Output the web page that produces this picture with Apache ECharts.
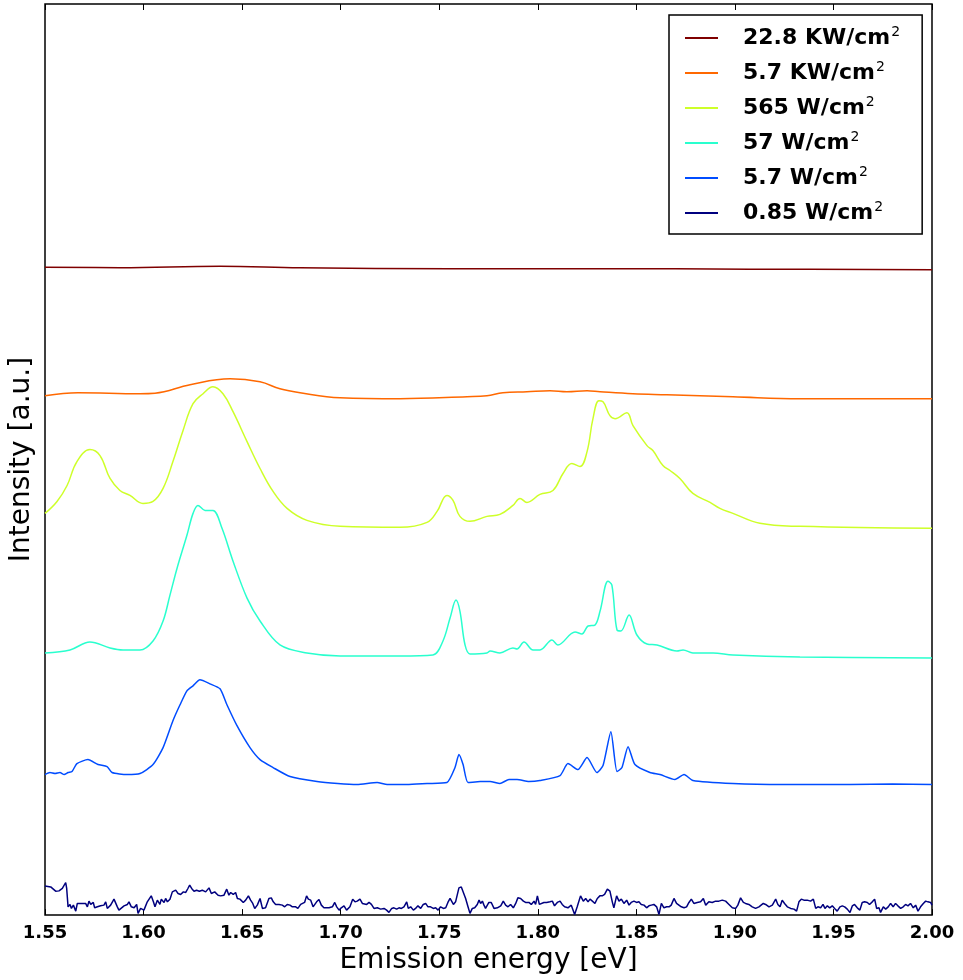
<!DOCTYPE html>
<html>
<head>
<meta charset="utf-8">
<title>Emission spectra</title>
<script src="https://cdn.jsdelivr.net/npm/echarts@6/dist/echarts.min.js"></script>
<style>
  html, body { margin: 0; padding: 0; background: #fff; }
  #chart { width: 963px; height: 980px; }
</style>
</head>
<body>
<div id="chart"></div>
<script>
// legend labels (superscript 2 is added by the formatter)
const seriesNames = ['22.8 KW/cm', '5.7 KW/cm', '565 W/cm', '57 W/cm', '5.7 W/cm', '0.85 W/cm'];
const seriesColors = ['#7f0000', '#ff6800', '#ceff29', '#29ffce', '#004cff', '#00007f'];
// how much each curve is smoothed (the noisy low-power one not at all)
const seriesSmooth = [0.4, 0.4, 0.4, 0.35, 0.2, false];

// x tick labels
const xTicks = [1.55, 1.60, 1.65, 1.70, 1.75, 1.80, 1.85, 1.90, 1.95, 2.00];

// 22.8 KW/cm2
const energyRed = [1.55, 1.588, 1.6388, 1.6794, 1.7555, 1.8316, 1.9077, 2.0];
const intensityRed = [65.0, 64.95, 65.1, 64.95, 64.85, 64.85, 64.8, 64.75];

// 5.7 KW/cm2
const energyOrange = [1.55, 1.5667, 1.5982, 1.6058, 1.6236, 1.6439, 1.6591, 1.6692, 1.6794, 1.6997,
  1.7301, 1.7641, 1.7742, 1.7823, 1.7945, 1.8062, 1.8148, 1.825, 1.8316, 1.8483, 1.8655, 1.899, 1.933, 2.0];
const intensityOrange = [52.1, 52.4, 52.3, 52.35, 53.2, 53.8, 53.5, 52.8, 52.4, 51.9,
  51.8, 52.0, 52.1, 52.4, 52.5, 52.6, 52.5, 52.6, 52.5, 52.3, 52.2, 52.0, 51.8, 51.8];

// 565 W/cm2
const energyYellow = [1.55, 1.5561, 1.5612, 1.5662, 1.5728, 1.5779, 1.583, 1.588, 1.5931, 1.5997,
  1.6048, 1.6099, 1.6149, 1.62, 1.6251, 1.6302, 1.6352, 1.6403, 1.6454, 1.6525,
  1.6591, 1.6657, 1.6728, 1.6829, 1.6997, 1.7301, 1.7438, 1.7489, 1.7539, 1.757,
  1.7605, 1.7656, 1.7742, 1.7808, 1.7874, 1.791, 1.7945, 1.8011, 1.8077, 1.8128,
  1.8173, 1.8214, 1.825, 1.828, 1.831, 1.8331, 1.8366, 1.8392, 1.8452, 1.8483,
  1.8554, 1.8584, 1.8635, 1.8671, 1.8721, 1.8787, 1.8874, 1.8924, 1.899, 1.9127, 1.933, 2.0];
const intensityYellow = [40.3, 41.5, 43.1, 45.5, 46.7, 46.1, 43.8, 42.6, 42.1, 41.3,
  41.5, 42.8, 45.5, 48.6, 51.3, 52.3, 53.0, 52.3, 50.5, 47.5,
  44.8, 42.5, 40.8, 39.6, 39.0, 38.9, 39.4, 40.5, 42.1, 41.6,
  40.0, 39.5, 40.0, 40.2, 41.1, 41.8, 41.4, 42.2, 42.6, 44.3,
  45.3, 45.0, 46.5, 49.8, 51.6, 51.5, 50.1, 49.8, 50.4, 49.1,
  47.1, 46.6, 45.1, 44.6, 43.8, 42.3, 41.4, 40.8, 40.3, 39.3, 39.0, 38.8];

// 57 W/cm2
const energyCyan = [1.55, 1.5627, 1.5728, 1.583, 1.5896, 1.5982, 1.6048, 1.6099, 1.6134, 1.617,
  1.622, 1.6251, 1.6276, 1.6312, 1.6352, 1.6398, 1.6454, 1.6525, 1.6591, 1.6692,
  1.6829, 1.6997, 1.7301, 1.7468, 1.7519, 1.7555, 1.7585, 1.7605, 1.7631, 1.7656,
  1.7742, 1.7758, 1.7808, 1.7874, 1.7895, 1.793, 1.7976, 1.8011, 1.8072, 1.8102,
  1.8189, 1.8224, 1.8255, 1.829, 1.8316, 1.8356, 1.8376, 1.8402, 1.8422, 1.8463,
  1.8503, 1.8554, 1.8605, 1.8706, 1.8737, 1.8787, 1.8889, 1.899, 1.933, 2.0];
const intensityCyan = [26.3, 26.6, 27.4, 26.8, 26.6, 26.6, 27.5, 29.5, 32.1, 34.8,
  38.1, 40.3, 41.1, 40.6, 40.6, 38.8, 35.5, 31.8, 29.5, 27.1,
  26.3, 26.0, 26.0, 26.1, 27.5, 29.8, 31.6, 30.5, 27.1, 26.2,
  26.3, 26.5, 26.3, 26.8, 26.7, 27.4, 26.6, 26.6, 27.6, 27.1,
  28.4, 28.2, 29.0, 29.1, 30.5, 33.5, 33.1, 28.6, 28.5, 30.1,
  28.1, 27.2, 27.1, 26.5, 26.6, 26.3, 26.3, 26.1, 25.9, 25.8];

// 5.7 W/cm2
const energyBlue = [1.55, 1.5525, 1.5551, 1.5576, 1.5597, 1.5617, 1.5637, 1.5662, 1.5718, 1.5769,
  1.5815, 1.584, 1.5916, 1.5982, 1.6048, 1.6099, 1.6149, 1.6185, 1.622, 1.6251,
  1.6286, 1.6337, 1.6388, 1.6423, 1.6474, 1.654, 1.6591, 1.6657, 1.6743, 1.688,
  1.6985, 1.7083, 1.7185, 1.7236, 1.7336, 1.7438, 1.7539, 1.758, 1.76, 1.7621,
  1.7646, 1.7708, 1.7758, 1.7808, 1.7854, 1.7895, 1.7955, 1.8011, 1.8113, 1.8153,
  1.8204, 1.825, 1.83, 1.8331, 1.8371, 1.8402, 1.8427, 1.8458, 1.8493, 1.8569,
  1.862, 1.8696, 1.8742, 1.8787, 1.899, 1.9244, 1.9584, 1.98, 2.0];
const intensityBlue = [14.1, 14.3, 14.2, 14.3, 14.1, 14.3, 14.4, 15.2, 15.6, 15.1,
  14.9, 14.3, 14.1, 14.2, 15.1, 16.8, 19.5, 21.1, 22.5, 23.0,
  23.6, 23.2, 22.7, 21.1, 19.0, 16.8, 15.6, 14.8, 13.9, 13.4,
  13.2, 13.1, 13.3, 13.1, 13.1, 13.2, 13.3, 14.8, 16.1, 15.1,
  13.3, 13.4, 13.4, 13.2, 13.6, 13.6, 13.4, 13.5, 14.0, 15.2,
  14.6, 15.8, 14.3, 15.0, 18.4, 14.4, 14.8, 16.9, 15.1, 14.3,
  14.1, 13.6, 14.1, 13.5, 13.2, 13.1, 13.1, 13.15, 13.1];

// 0.85 W/cm2
const energyNavy = [1.55, 1.5529, 1.5554, 1.5571, 1.5588, 1.5596, 1.5605, 1.561, 1.5617, 1.5627,
  1.5634, 1.5644, 1.5656, 1.5664, 1.5681, 1.5706, 1.5715, 1.5723, 1.5732, 1.5745,
  1.5752, 1.5766, 1.5782, 1.5799, 1.5808, 1.5816, 1.5833, 1.585, 1.5867, 1.5875,
  1.5884, 1.5901, 1.5918, 1.5926, 1.5938, 1.5952, 1.5965, 1.5972, 1.5985, 1.5994,
  1.6002, 1.6019, 1.6039, 1.605, 1.6058, 1.607, 1.6083, 1.609, 1.6104, 1.6112,
  1.6121, 1.6134, 1.6146, 1.6163, 1.6175, 1.6188, 1.6202, 1.6214, 1.6225, 1.6234,
  1.6244, 1.6256, 1.6269, 1.6283, 1.6298, 1.6315, 1.6332, 1.6344, 1.6361, 1.6378,
  1.6391, 1.6408, 1.6422, 1.6433, 1.6442, 1.6455, 1.6467, 1.6476, 1.6489, 1.6506,
  1.6518, 1.6532, 1.6543, 1.6554, 1.6564, 1.6577, 1.6591, 1.6603, 1.6619, 1.6636,
  1.6648, 1.6658, 1.667, 1.6687, 1.6704, 1.6716, 1.6729, 1.6743, 1.6755, 1.6772,
  1.6783, 1.6797, 1.6805, 1.6817, 1.6827, 1.6836, 1.6848, 1.686, 1.6868, 1.6878,
  1.689, 1.6902, 1.6915, 1.6941, 1.6958, 1.697, 1.698, 1.6992, 1.7003, 1.7017,
  1.703, 1.7047, 1.7061, 1.7073, 1.7084, 1.7098, 1.711, 1.7118, 1.7132, 1.7144,
  1.7156, 1.7169, 1.7186, 1.7203, 1.722, 1.7233, 1.7245, 1.7259, 1.727, 1.7284,
  1.7296, 1.7308, 1.7321, 1.7335, 1.7343, 1.7355, 1.7369, 1.738, 1.7392, 1.7406,
  1.7419, 1.7431, 1.7443, 1.7456, 1.747, 1.7482, 1.7494, 1.7507, 1.7521, 1.7533,
  1.7544, 1.7555, 1.7563, 1.7572, 1.7583, 1.76, 1.7612, 1.7622, 1.7634, 1.7646,
  1.7656, 1.7668, 1.768, 1.7693, 1.7702, 1.771, 1.7719, 1.7727, 1.7735, 1.7752,
  1.7764, 1.7778, 1.7795, 1.7812, 1.7825, 1.7837, 1.7849, 1.7862, 1.7876, 1.7888,
  1.7899, 1.7913, 1.7927, 1.7938, 1.7955, 1.7967, 1.7981, 1.7989, 1.7998, 1.8008,
  1.8018, 1.8031, 1.8045, 1.8062, 1.8074, 1.8085, 1.8099, 1.8113, 1.8124, 1.8136,
  1.8153, 1.817, 1.8187, 1.82, 1.8217, 1.8231, 1.8243, 1.8255, 1.8265, 1.8277,
  1.829, 1.8302, 1.8315, 1.8327, 1.8339, 1.8353, 1.8366, 1.8378, 1.8386, 1.84,
  1.8412, 1.8424, 1.8437, 1.8451, 1.8463, 1.8474, 1.8488, 1.8501, 1.8513, 1.8525,
  1.8539, 1.8552, 1.8564, 1.8576, 1.8589, 1.8603, 1.8615, 1.8627, 1.864, 1.8654,
  1.8666, 1.8677, 1.8691, 1.8704, 1.8716, 1.8728, 1.8742, 1.8755, 1.8767, 1.8779,
  1.8792, 1.8809, 1.8826, 1.884, 1.8852, 1.8868, 1.8885, 1.8902, 1.8919, 1.8936,
  1.8953, 1.897, 1.8987, 1.9004, 1.9015, 1.9029, 1.9043, 1.9054, 1.9071, 1.9088,
  1.9105, 1.9122, 1.9144, 1.9156, 1.9173, 1.919, 1.9207, 1.9218, 1.9229, 1.924,
  1.9252, 1.9266, 1.9283, 1.93, 1.9313, 1.9325, 1.9337, 1.935, 1.9367, 1.9384,
  1.9398, 1.941, 1.9421, 1.9435, 1.9447, 1.9457, 1.9469, 1.9481, 1.9494, 1.9506,
  1.9519, 1.9533, 1.9545, 1.9557, 1.957, 1.9584, 1.9596, 1.9607, 1.9621, 1.9634,
  1.9646, 1.9658, 1.9672, 1.9683, 1.9697, 1.9709, 1.9719, 1.9731, 1.9739, 1.9753,
  1.9765, 1.9778, 1.979, 1.9803, 1.9815, 1.9827, 1.9841, 1.9854, 1.9866, 1.9878,
  1.9891, 1.9905, 1.9917, 1.9929, 1.9942, 1.9956, 1.9968, 1.9979, 1.9993, 2.0];
const intensityNavy = [2.93, 2.83, 2.4, 2.43, 2.67, 2.73, 3.27, 2.67, 0.83, 1.07,
  0.67, 1.0, 0.4, 1.17, 1.17, 1.17, 0.83, 1.4, 1.07, 1.27,
  0.73, 0.83, 0.93, 1.0, 1.33, 0.67, 1.0, 1.6, 0.83, 0.5,
  0.67, 0.93, 1.07, 1.33, 0.83, 0.73, 1.07, 0.17, 0.67, 0.83,
  0.5, 1.33, 1.93, 1.33, 0.83, 1.5, 1.07, 1.6, 1.27, 1.67,
  1.33, 1.6, 2.33, 2.5, 2.17, 2.07, 2.33, 2.27, 2.67, 3.0,
  2.67, 2.4, 2.5, 2.4, 2.5, 2.33, 2.73, 2.17, 2.33, 2.0,
  1.93, 2.0, 2.6, 2.0, 2.27, 2.07, 2.27, 1.67, 1.6, 1.27,
  1.5, 1.93, 1.5, 1.17, 0.67, 1.0, 1.67, 0.67, 0.73, 1.67,
  1.73, 1.33, 1.07, 1.07, 1.0, 0.83, 1.07, 1.0, 0.83, 0.83,
  0.67, 1.07, 0.93, 1.27, 1.93, 1.6, 1.5, 0.83, 0.67, 1.33,
  1.57, 1.0, 0.73, 0.73, 0.83, 1.27, 0.83, 0.5, 0.73, 0.93,
  0.5, 0.83, 1.6, 1.33, 1.4, 1.6, 1.17, 1.33, 1.07, 1.27,
  1.07, 0.67, 0.73, 0.6, 0.67, 0.5, 0.27, 0.67, 0.73, 0.6,
  0.73, 0.67, 0.83, 1.33, 0.67, 0.83, 0.5, 0.67, 0.93, 0.67,
  1.07, 1.17, 0.83, 0.83, 0.67, 0.73, 0.5, 0.83, 0.67, 0.73,
  1.27, 1.67, 1.5, 1.07, 1.33, 2.73, 2.83, 2.67, 1.67, 0.83,
  0.17, 0.67, 0.73, 1.07, 1.5, 1.17, 1.4, 1.0, 0.67, 1.27,
  1.27, 0.67, 0.73, 0.93, 1.4, 1.0, 0.83, 1.07, 0.73, 1.17,
  1.73, 1.67, 1.4, 1.27, 1.27, 1.07, 1.4, 1.07, 1.93, 1.07,
  1.17, 1.27, 1.27, 1.33, 1.4, 0.93, 1.27, 1.4, 1.07, 0.83,
  0.73, 1.0, 0.07, 0.83, 1.93, 1.4, 1.67, 1.33, 1.6, 1.4,
  1.17, 1.67, 1.93, 1.93, 2.07, 2.6, 2.4, 1.33, 0.73, 1.93,
  1.4, 1.6, 1.17, 1.5, 1.0, 1.27, 1.4, 1.27, 1.33, 1.07,
  1.0, 0.73, 0.93, 1.0, 1.07, 0.83, 0.07, 1.17, 0.73, 0.83,
  0.83, 1.0, 1.67, 1.17, 1.0, 0.83, 0.73, 0.83, 1.27, 1.6,
  1.17, 1.27, 1.33, 1.67, 1.0, 1.33, 1.27, 1.4, 1.4, 1.5,
  1.4, 1.07, 0.73, 0.67, 1.0, 1.73, 1.27, 1.17, 1.07, 0.83,
  0.67, 0.83, 1.17, 1.07, 0.83, 1.0, 1.6, 1.07, 0.83, 1.5,
  1.17, 0.83, 0.67, 0.6, 0.4, 1.33, 1.6, 1.5, 1.5, 1.4,
  1.6, 0.67, 0.83, 0.73, 1.07, 0.67, 0.93, 0.73, 0.93, 0.67,
  0.4, 0.83, 0.93, 0.83, 0.6, 0.27, 0.93, 1.07, 0.73, 0.5,
  1.27, 1.33, 1.27, 1.07, 1.33, 1.6, 0.67, 0.73, 0.27, 0.83,
  0.6, 0.83, 1.17, 0.83, 1.17, 0.93, 0.67, 0.83, 1.07, 0.93,
  1.17, 0.73, 1.0, 0.4, 0.83, 1.17, 1.4, 1.33, 1.27, 1.0];

const energies = [energyRed, energyOrange, energyYellow, energyCyan, energyBlue, energyNavy];
const intensities = [intensityRed, intensityOrange, intensityYellow, intensityCyan, intensityBlue, intensityNavy];

const chart = echarts.init(document.getElementById('chart'), null, { renderer: 'canvas' });

const zip = (xs, ys) => xs.map((x, i) => [x, ys[i]]);

const series = seriesNames.map((name, i) => ({
  name: name,
  type: 'line',
  symbol: 'none',
  smooth: seriesSmooth[i],
  animation: false,
  xAxisIndex: 0,
  lineStyle: { color: seriesColors[i], width: 1.5 },
  itemStyle: { color: seriesColors[i] },
  data: zip(energies[i], intensities[i])
}));

const commonX = {
  type: 'value',
  min: 1.55,
  max: 2.0,
  interval: 0.05,
  splitLine: { show: false },
  axisLine: { show: false },
  axisTick: { show: true, inside: true, length: 6, lineStyle: { color: '#000', width: 1 } }
};

const option = {
  backgroundColor: '#fff',
  animation: false,
  grid: {
    left: 45,
    right: 31,
    top: 4,
    bottom: 62,
    show: true,
    borderColor: '#000',
    borderWidth: 1.5,
    backgroundColor: 'transparent'
  },
  xAxis: [
    Object.assign({}, commonX, {
      position: 'bottom',
      name: 'Emission energy [eV]',
      nameLocation: 'middle',
      nameGap: 28,
      nameTextStyle: { fontFamily: 'DejaVu Sans', fontSize: 28, color: '#000' },
      axisLabel: {
        margin: 9,
        fontFamily: 'DejaVu Sans',
        fontWeight: 'bold',
        fontSize: 18,
        color: '#000',
        formatter: v => {
          const t = xTicks.find(x => Math.abs(x - v) < 1e-6);
          return t === undefined ? '' : t.toFixed(2);
        }
      }
    }),
    Object.assign({}, commonX, {
      position: 'top',
      axisLabel: { show: false }
    })
  ],
  yAxis: {
    type: 'value',
    min: 0,
    max: 91.4,
    name: 'Intensity [a.u.]',
    nameLocation: 'middle',
    nameRotate: 90,
    nameGap: 9,
    nameTextStyle: { fontFamily: 'DejaVu Sans', fontSize: 28, color: '#000' },
    axisLine: { show: false },
    axisTick: { show: false },
    axisLabel: { show: false },
    splitLine: { show: false }
  },
  legend: {
    orient: 'vertical',
    left: 669,
    top: 15,
    padding: [10, 22, 10, 16],
    itemGap: 11,
    itemWidth: 33,
    itemHeight: 2,
    icon: 'rect',
    borderColor: '#000',
    borderWidth: 1.5,
    backgroundColor: '#fff',
    data: seriesNames,
    formatter: name => `{b|${name}}{s|2}`,
    textStyle: {
      color: '#000',
      rich: {
        b: { fontFamily: 'DejaVu Sans', fontWeight: 'bold', fontSize: 22, color: '#000', padding: [0, 0, 0, 20], lineHeight: 26 },
        s: { fontFamily: 'DejaVu Sans', fontSize: 14, color: '#000', verticalAlign: 'top', lineHeight: 26, padding: [0, 0, 0, 1] }
      }
    }
  },
  series: series
};

chart.setOption(option);
</script>
</body>
</html>
